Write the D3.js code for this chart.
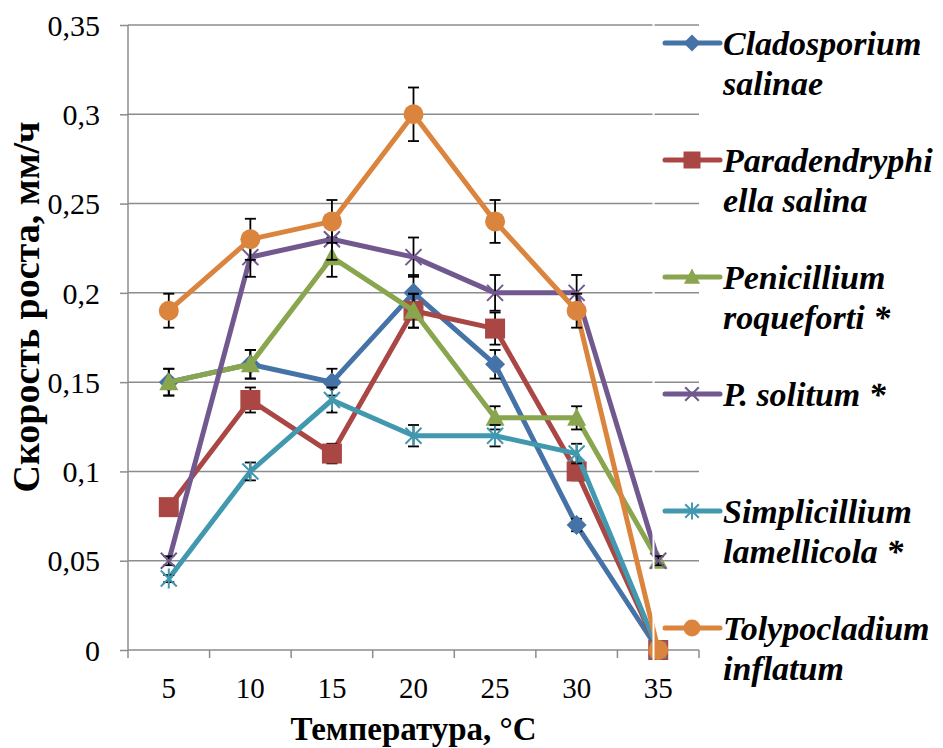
<!DOCTYPE html>
<html>
<head>
<meta charset="utf-8">
<script src="https://cdn.jsdelivr.net/npm/d3@7"></script>
<style>
  body { margin: 0; background: #fff; }
  svg { display: block; }
</style>
</head>
<body>
<svg width="943" height="748"></svg>
<script>
// growth rate vs temperature, 6 fungi
const temps = ['5', '10', '15', '20', '25', '30', '35'];

const cladosporium = [0.15, 0.16, 0.15, 0.20, 0.16, 0.07, 0];
const paradendryphiella = [0.08, 0.14, 0.11, 0.19, 0.18, 0.10, 0];
const roqueforti = [0.15, 0.16, 0.22, 0.19, 0.13, 0.13, 0.05];
const solitum = [0.05, 0.22, 0.23, 0.22, 0.20, 0.20, 0.05];
const simplicillium = [0.04, 0.10, 0.14, 0.12, 0.12, 0.11, 0];
const tolypocladium = [0.19, 0.23, 0.24, 0.30, 0.24, 0.19, 0];

const seriesNames = [
  ['Cladosporium', 'salinae'],
  ['Paradendryphi', 'ella salina'],
  ['Penicillium', 'roqueforti *'],
  ['P. solitum *'],
  ['Simplicillium', 'lamellicola *'],
  ['Tolypocladium', 'inflatum']
];
const yTicks = [0, 0.05, 0.1, 0.15, 0.2, 0.25, 0.3, 0.35];
const errorPercent = 5;

const colors = ['#4572A7', '#AA4643', '#89A54E', '#71588F', '#4198AF', '#DB843D'];
const shapes = ['diamond', 'square', 'triangle', 'x', 'star', 'circle'];
const allValues = [cladosporium, paradendryphiella, roqueforti, solitum, simplicillium, tolypocladium];

const series = allValues.map((v, i) => ({
  name: seriesNames[i], values: v, color: colors[i], shape: shapes[i]
}));

const serif = '"Liberation Serif", "Times New Roman", serif';
const svg = d3.select('svg');
const plotLeft = 128, plotRight = 699, plotTop = 25, plotBottom = 650;

const x = d3.scaleBand().domain(temps).range([plotLeft, plotRight]).padding(0);
const y = d3.scaleLinear().domain([0, 0.35]).range([plotBottom, plotTop]);
const cx = t => x(t) + x.bandwidth() / 2;

function markerPath(shape, s) {
  s = s || 1;
  switch (shape) {
    case 'diamond': return `M0,${-10*s}L${10*s},0L0,${10*s}L${-10*s},0Z`;
    case 'square': return `M${-10*s},${-10*s}h${20*s}v${20*s}h${-20*s}Z`;
    case 'triangle': return `M0,${-10*s}L${9.5*s},${8*s}L${-9.5*s},${8*s}Z`;
    case 'circle': return d3.symbol(d3.symbolCircle, Math.PI * 100 * s * s)();
    case 'x': return `M${-8*s},${-8*s}L${8*s},${8*s}M${-8*s},${8*s}L${8*s},${-8*s}`;
    case 'star': return `M${-8*s},${-8*s}L${8*s},${8*s}M${-8*s},${8*s}L${8*s},${-8*s}M0,${-10*s}L0,${10*s}`;
  }
}
const stroked = s => s === 'x' || s === 'star';

// gridlines
svg.append('g')
  .selectAll('line')
  .data(yTicks.slice(1))
  .enter().append('line')
    .attr('x1', plotLeft).attr('x2', plotRight)
    .attr('y1', d => y(d)).attr('y2', d => y(d))
    .attr('stroke', '#8c8c8c').attr('stroke-width', 1.5);

// axes
const yAxis = svg.append('g')
  .attr('transform', `translate(${plotLeft},0)`)
  .call(d3.axisLeft(y).tickValues(yTicks).tickSize(8).tickPadding(20)
    .tickFormat(d => d3.format('~g')(d).replace('.', ',')));
yAxis.selectAll('line, path').attr('stroke', '#8c8c8c').attr('stroke-width', 1.5);
yAxis.select('.domain').attr('d', `M0,${plotBottom}V${plotTop}`);
yAxis.selectAll('text')
  .style('font-family', serif).style('font-size', '30px')
  .attr('fill', '#000').attr('dy', '0.34em');

const xAxis = svg.append('g')
  .attr('transform', `translate(0,${plotBottom})`)
  .call(d3.axisBottom(x).tickSize(0).tickPadding(27));
xAxis.select('.domain').attr('stroke', '#8c8c8c').attr('stroke-width', 1.5)
  .attr('d', `M${plotLeft},0H${plotRight}`);
xAxis.selectAll('text')
  .style('font-family', serif).style('font-size', '29px')
  .attr('fill', '#000').attr('dy', '0.71em');
xAxis.selectAll('.sep')
  .data(temps.map(t => x(t)).concat([plotRight]))
  .enter().append('line')
    .attr('x1', d => d).attr('x2', d => d)
    .attr('y1', 0).attr('y2', 8)
    .attr('stroke', '#8c8c8c').attr('stroke-width', 1.5);

// series
const line = d3.line().x((d, i) => cx(temps[i])).y(d => y(d));

series.forEach(s => {
  const g = svg.append('g');
  g.append('path')
    .attr('d', line(s.values))
    .attr('fill', 'none')
    .attr('stroke', s.color)
    .attr('stroke-width', 5)
    .attr('stroke-linejoin', 'round');

  const err = g.selectAll('.err')
    .data(s.values.map((v, i) => ({ t: temps[i], v: v, e: v * errorPercent / 100 })).filter(d => d.v > 0))
    .enter().append('g')
      .attr('transform', d => `translate(${cx(d.t)},0)`)
      .attr('stroke', '#000').attr('stroke-width', 1.8);
  err.append('line').attr('y1', d => y(d.v + d.e)).attr('y2', d => y(d.v - d.e));
  err.append('line').attr('x1', -5.5).attr('x2', 5.5).attr('y1', d => y(d.v + d.e)).attr('y2', d => y(d.v + d.e));
  err.append('line').attr('x1', -5.5).attr('x2', 5.5).attr('y1', d => y(d.v - d.e)).attr('y2', d => y(d.v - d.e));

  g.selectAll('.mk')
    .data(s.values)
    .enter().append('path')
      .attr('transform', (d, i) => `translate(${cx(temps[i])},${y(d)})`)
      .attr('d', markerPath(s.shape))
      .attr('fill', stroked(s.shape) ? 'none' : s.color)
      .attr('stroke', stroked(s.shape) ? s.color : 'none')
      .attr('stroke-width', 2);
});

// thin white seam at legend edge
svg.append('line')
  .attr('x1', 653.5).attr('x2', 653.5).attr('y1', plotTop - 3).attr('y2', plotBottom + 10)
  .attr('stroke', '#fff').attr('stroke-width', 2);

// axis titles
svg.append('text')
  .attr('x', (plotLeft + plotRight) / 2).attr('y', 740)
  .attr('text-anchor', 'middle')
  .style('font-family', serif).style('font-size', '33px').style('font-weight', 'bold')
  .text('Температура, °C');

svg.append('text')
  .attr('transform', 'translate(39,307) rotate(-90)')
  .attr('text-anchor', 'middle')
  .style('font-family', serif).style('font-size', '38px').style('font-weight', 'bold')
  .text('Скорость роста, мм/ч');

// legend
const legend = svg.append('g').attr('transform', 'translate(665,43)');
const item = legend.selectAll('g')
  .data(series)
  .enter().append('g')
    .attr('transform', (d, i) => `translate(0,${i * 117})`);
item.append('line')
  .attr('x1', 0).attr('x2', 55)
  .attr('stroke', d => d.color).attr('stroke-width', 5).attr('stroke-linecap', 'round');
item.append('path')
  .attr('transform', 'translate(27,0)')
  .attr('d', d => markerPath(d.shape, 0.85))
  .attr('fill', d => stroked(d.shape) ? 'none' : d.color)
  .attr('stroke', d => stroked(d.shape) ? d.color : 'none')
  .attr('stroke-width', 2);
item.append('text')
  .attr('x', 58).attr('y', 12)
  .style('font-family', serif).style('font-size', '34px')
  .style('font-weight', 'bold').style('font-style', 'italic')
  .selectAll('tspan')
  .data(d => d.name)
  .enter().append('tspan')
    .attr('x', 58)
    .attr('dy', (d, i) => i === 0 ? 0 : 40)
    .text(d => d);
</script>
</body>
</html>
